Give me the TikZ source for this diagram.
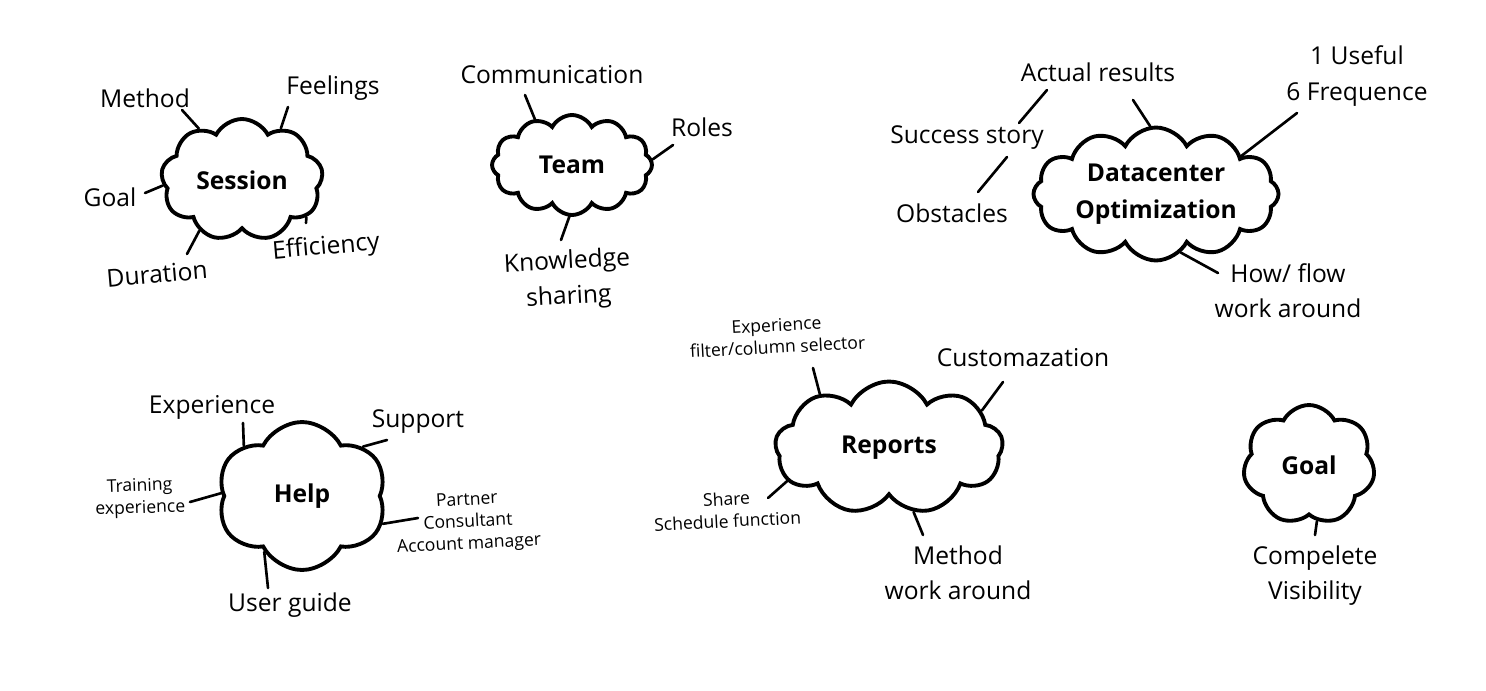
\documentclass[tikz,border=0pt]{standalone}
\usepackage{fontspec}
\setmainfont{Open Sans}
\usepackage{tikz}
\usetikzlibrary{shapes,calc,positioning}

\begin{document}
\begin{tikzpicture}[x=0.02cm, y=-0.02cm, line width=1.5pt, line cap=round,
    topic/.style={cloud, draw, line width=2.2pt, cloud ignores aspect, cloud puff arc=125, align=center, inner sep=2pt, font=\fontsize{14}{21}\selectfont\bfseries},
    leaf/.style={align=center, inner sep=2pt, font=\fontsize{14}{20}\selectfont},
    smallleaf/.style={align=center, inner sep=2pt, font=\fontsize{10}{12.5}\selectfont}]
    \useasboundingbox (0,0) rectangle (1486,690);
    \node (Session) at (242,180) [topic, cloud puffs=9, minimum width=3.24cm, minimum height=2.44cm] {Session};
    \node (Team) at (572,165) [topic, cloud puffs=12, minimum width=3.2cm, minimum height=2cm] {Team};
    \node (Datacenter) at (1156,194) [topic, cloud puffs=12, minimum width=4.84cm, minimum height=2.66cm] {Datacenter\\Optimization};
    \node (Help) at (302,496) [topic, cloud puffs=6, minimum width=3.4cm, minimum height=2.96cm] {Help};
    \node (Reports) at (889,448) [topic, cloud puffs=9, minimum width=4.56cm, minimum height=2.66cm] {Reports};
    \node (Goal) at (1309,465) [topic, cloud puffs=7, minimum width=2.64cm, minimum height=2.4cm] {Goal};

    \node (Method) at (145,98) [leaf] {Method};
    \node (Feelings) at (333,88) [leaf] {Feelings};
    \node (SessionGoal) at (110,197) [leaf] {Goal};
    \node (Duration) at (157,274) [leaf, rotate=5] {Duration};
    \node (Efficiency) at (326,248) [leaf, rotate=5] {Efficiency};
    \node (Communication) at (552,75) [leaf] {Communication};
    \node (Roles) at (702,127) [leaf] {Roles};
    \node (Knowledge) at (568,280) [leaf, rotate=3] {Knowledge\\sharing};
    \node (Actual) at (1098,72) [leaf] {Actual results};
    \node (Success) at (967,138) [leaf] {Success story};
    \node (Obstacles) at (952,213) [leaf] {Obstacles};
    \node (Useful) at (1357,76) [leaf] {1 Useful\\6 Frequence};
    \node (How) at (1288,291) [leaf] {How/ flow\\work around};
    \node (Experience) at (212,407) [leaf] {Experience};
    \node (Support) at (418,422) [leaf] {Support};
    \node (Training) at (140,498) [smallleaf, rotate=2] {Training\\experience};
    \node (Partner) at (468,523) [smallleaf, rotate=3] {Partner\\Consultant\\Account manager};
    \node (UserGuide) at (290,605) [leaf] {User guide};
    \node (Filter) at (777,336) [smallleaf, rotate=3] {Experience\\filter/column selector};
    \node (Customazation) at (1023,358) [leaf] {Customazation};
    \node (Share) at (727,510) [smallleaf, rotate=3] {Share\\Schedule function};
    \node (Workaround) at (958,573) [leaf] {Method\\work around};
    \node (Visibility) at (1315,576) [leaf] {Compelete\\Visibility};

    \draw ($(Method)+(37,12)$) -- (Session.130);
    \draw ($(Feelings)+(-45,19)$) -- (Session.53);
    \draw ($(SessionGoal)+(35,-4)$) -- (Session.184);
    \draw ($(Duration)+(30,-20)$) -- (Session.230);
    \draw ($(Efficiency)+(-20,-25)$) -- (Session.-30);
    \draw ($(Communication)+(-27,20)$) -- (Team.129);
    \draw ($(Roles)+(-29,18)$) -- (Team.4);
    \draw ($(Knowledge)+(-7,-40)$) -- (Team.267);
    \draw ($(Actual)+(35,28)$) -- (Datacenter.95);
    \draw ($(Success)+(52,-15)$) -- ($(Actual)+(-51,18)$);
    \draw ($(Obstacles)+(26,-21)$) -- ($(Success)+(40,19)$);
    \draw ($(Useful)+(-60,37)$) -- (Datacenter.24);
    \draw ($(How)+(-70,-18)$) -- (Datacenter.-67);
    \draw ($(Experience)+(31,16)$) -- (Help.139);
    \draw ($(Support)+(-31,18)$) -- (Help.39);
    \draw ($(Training)+(50,4)$) -- (Help.178);
    \draw ($(Partner)+(-50,-5)$) -- (Help.-19);
    \draw ($(UserGuide)+(-22,-17)$) -- (Help.236);
    \draw ($(Filter)+(36,32)$) -- (Reports.142);
    \draw ($(Customazation)+(-20,24)$) -- (Reports.22);
    \draw ($(Share)+(41,-12)$) -- (Reports.198);
    \draw ($(Workaround)+(-35,-38)$) -- (Reports.-69);
    \draw ($(Visibility)+(0,-41)$) -- (Goal.-82);
\end{tikzpicture}
\end{document}
